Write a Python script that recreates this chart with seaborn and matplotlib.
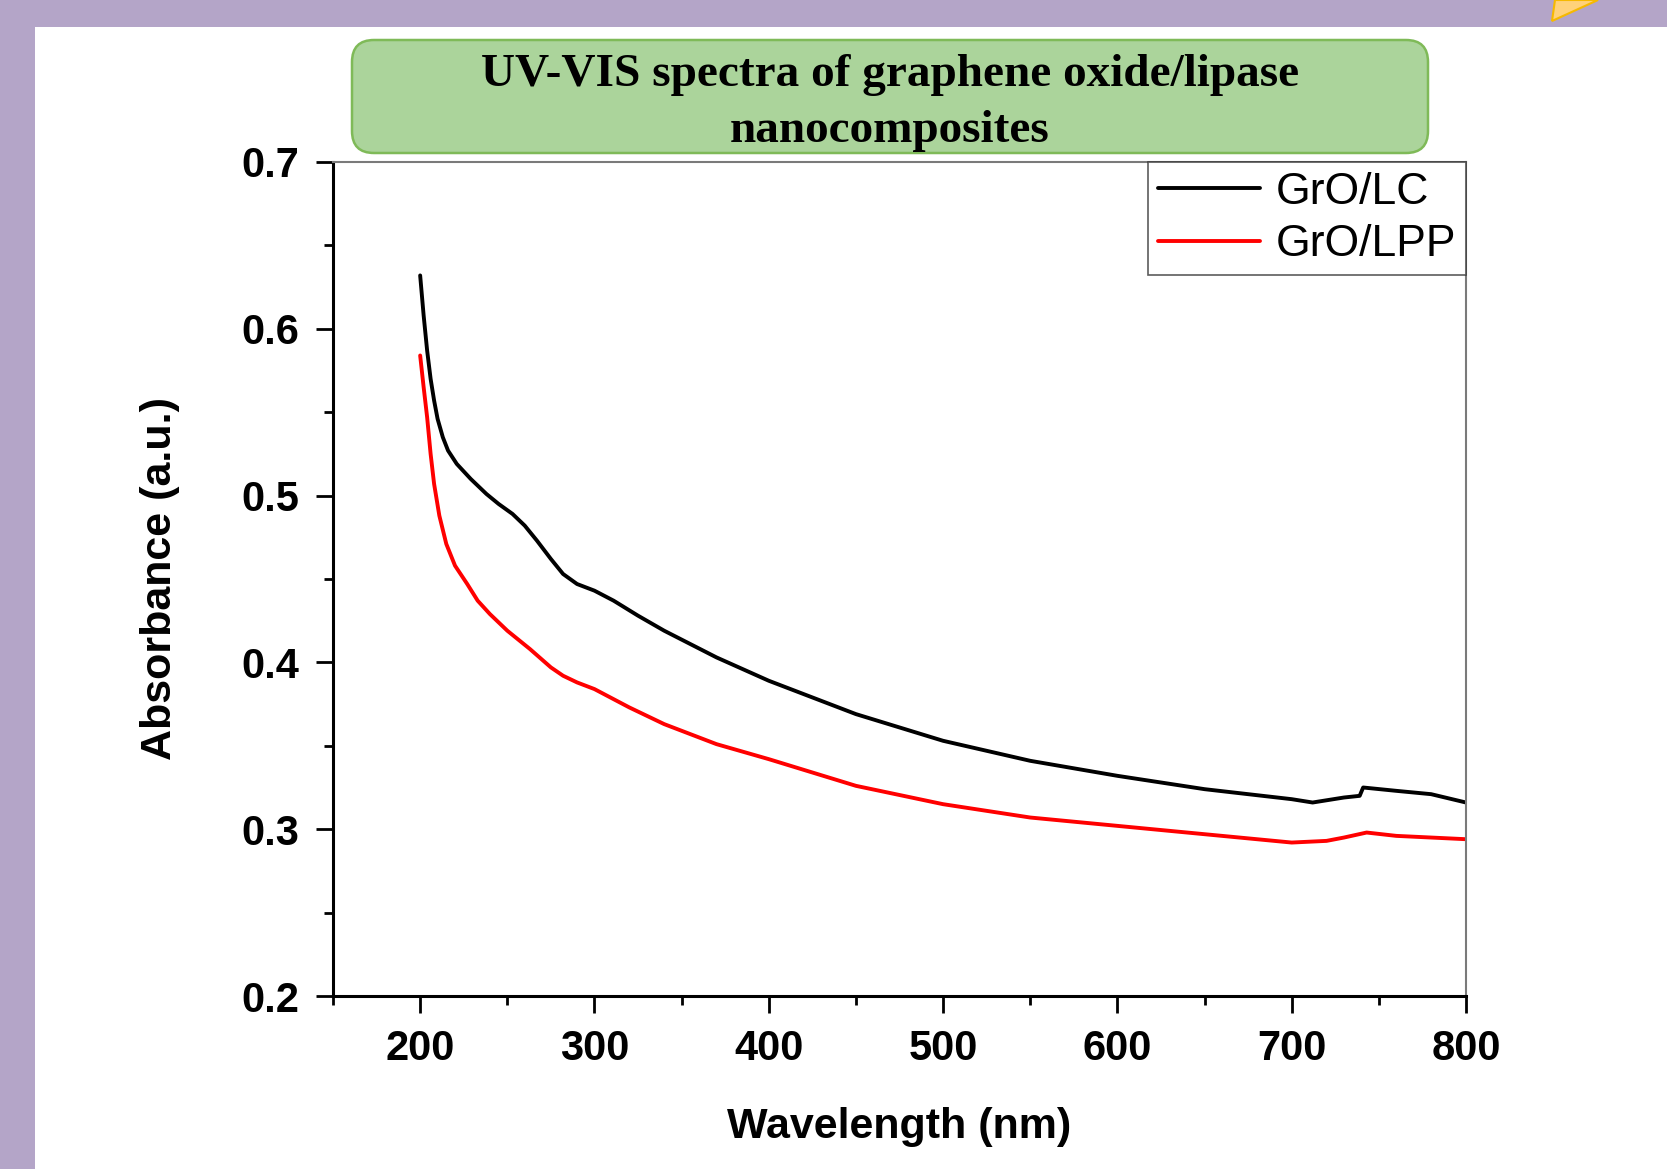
import numpy as np
import pandas as pd
import seaborn as sns
import matplotlib.pyplot as plt
from matplotlib.patches import FancyBboxPatch, Rectangle, Polygon
from matplotlib.transforms import IdentityTransform
from matplotlib.ticker import MultipleLocator


# GrO/LC (black curve)
wl_lc = [200, 202, 204, 206, 208, 210, 213, 216, 221, 229, 238, 245, 253, 260,
         267, 275, 282, 290, 300, 311, 325, 340, 370, 400, 450, 500, 550, 600,
         650, 700, 712, 730, 739, 741, 760, 780, 800]
abs_lc = [0.632, 0.608, 0.587, 0.570, 0.557, 0.546, 0.535, 0.527, 0.519, 0.510,
          0.501, 0.495, 0.489, 0.482, 0.473, 0.462, 0.453, 0.447, 0.443, 0.437,
          0.428, 0.419, 0.403, 0.389, 0.369, 0.353, 0.341, 0.332, 0.324, 0.318,
          0.316, 0.319, 0.320, 0.325, 0.323, 0.321, 0.316]

# GrO/LPP (red curve)
wl_lpp = [200, 202, 204, 206, 208, 211, 215, 220, 227, 233, 240, 250, 263, 275,
          282, 290, 300, 320, 340, 370, 400, 450, 500, 550, 600, 650, 700, 720,
          730, 743, 760, 780, 800]
abs_lpp = [0.584, 0.565, 0.547, 0.525, 0.507, 0.488, 0.471, 0.458, 0.447, 0.437,
           0.429, 0.419, 0.408, 0.397, 0.392, 0.388, 0.384, 0.373, 0.363, 0.351,
           0.342, 0.326, 0.315, 0.307, 0.302, 0.297, 0.292, 0.293, 0.295, 0.298,
           0.296, 0.295, 0.294]

series_names = ['GrO/LC', 'GrO/LPP']
series_colors = ['black', '#ff0000']

title_text = 'UV-VIS spectra of graphene oxide/lipase\nnanocomposites'

sns.set_style('ticks')
plt.rcParams['font.family'] = ['Liberation Sans', 'DejaVu Sans']
plt.rcParams['text.color'] = 'black'
plt.rcParams['axes.labelcolor'] = 'black'
plt.rcParams['xtick.color'] = 'black'
plt.rcParams['ytick.color'] = 'black'

df = pd.concat([
    pd.DataFrame({'wl': wl_lc, 'A': abs_lc, 'sample': series_names[0]}),
    pd.DataFrame({'wl': wl_lpp, 'A': abs_lpp, 'sample': series_names[1]}),
])

W, H = 1667, 1169
fig = plt.figure(figsize=(W / 100, H / 100), dpi=100)
fig.patch.set_facecolor('#b4a5c8')

# white slide panel
fig.add_artist(Rectangle((35, 0), W - 35, H - 27, transform=IdentityTransform(),
                         facecolor='white', edgecolor='none', zorder=0))
# small yellow triangle at the top
fig.add_artist(Polygon([(1552, H - 21), (1555, H), (1598, H)], closed=True,
                       transform=IdentityTransform(), facecolor='#ffd27a',
                       edgecolor='#f6b900', lw=1.5, zorder=1))

ax = fig.add_axes([333 / W, 1 - 996 / H, 1133 / W, 834 / H])
ax.set_facecolor('white')

sns.lineplot(data=df, x='wl', y='A', hue='sample', palette=series_colors,
             hue_order=series_names, linewidth=2.8, ax=ax, sort=False)

ax.set_xlim(150, 800)
ax.set_ylim(0.2, 0.7)
ax.xaxis.set_minor_locator(MultipleLocator(50))
ax.yaxis.set_minor_locator(MultipleLocator(0.05))
ax.set_xticks([200, 300, 400, 500, 600, 700, 800])
ax.set_xticklabels(['200', '300', '400', '500', '600', '700', '800'])
ax.set_yticks([0.2, 0.3, 0.4, 0.5, 0.6, 0.7])
ax.set_yticklabels(['0.2', '0.3', '0.4', '0.5', '0.6', '0.7'])

ax.tick_params(which='major', direction='out', length=12, width=2, pad=12,
               labelsize=30, top=False, right=False)
ax.tick_params(which='minor', direction='out', length=6.5, width=2,
               top=False, right=False)
for lab in ax.get_xticklabels() + ax.get_yticklabels():
    lab.set_fontweight('bold')

for side in ['left', 'bottom']:
    ax.spines[side].set_linewidth(2.2)
    ax.spines[side].set_color('black')
for side in ['top', 'right']:
    ax.spines[side].set_linewidth(1.5)
    ax.spines[side].set_color('#7a7a7a')

ax.set_xlabel('Wavelength (nm)', fontsize=31, fontweight='bold')
ax.set_ylabel('Absorbance (a.u.)', fontsize=31, fontweight='bold')
ax.xaxis.set_label_coords(0.5, -0.133)
ax.yaxis.set_label_coords(-0.135, 0.5)

leg = ax.legend(loc='upper right', borderaxespad=0, fontsize=32, frameon=True,
                fancybox=False, handlelength=2.3, handletextpad=0.35,
                borderpad=0.22, labelspacing=0.26, title=None)
leg.get_frame().set_edgecolor('#333333')
leg.get_frame().set_linewidth(1.2)
for line in leg.get_lines():
    line.set_linewidth(2.8)

# green rounded title box
fig.add_artist(FancyBboxPatch((352, H - 153), 1076, 113,
                              boxstyle='round,pad=0,rounding_size=22',
                              transform=IdentityTransform(),
                              facecolor='#abd49b', edgecolor='#7fba58',
                              lw=1.8, zorder=3))
fig.text(890 / W, 1 - 103 / H, title_text, ha='center', va='center',
         fontsize=34, fontweight='bold', family=['Liberation Serif', 'DejaVu Serif'],
         linespacing=1.42, zorder=4)

fig.savefig('out.png', dpi=100, facecolor=fig.get_facecolor())
